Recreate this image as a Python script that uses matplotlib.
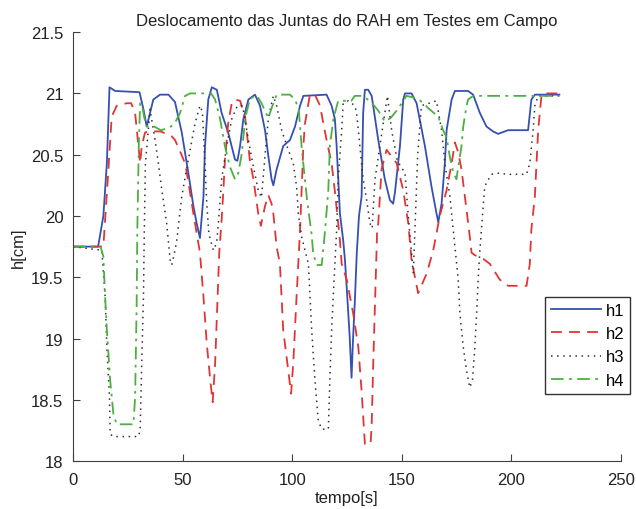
import matplotlib.pyplot as plt

plt.rcParams['font.family'] = ['Liberation Sans', 'DejaVu Sans']

# h1 (blue, solid)
t1 = [0, 11.4, 13.8, 15.4, 16.6, 19.2, 30.3, 32.1, 33.6, 35.1, 36.6, 39.7, 43.5, 46.5,
      49.6, 52.6, 54.9, 56.4, 57.9, 59.5, 60.2, 61.7, 63.3, 65.6, 67.8, 70.8, 73.9, 75,
      76.2, 77.7, 80, 83, 85.3, 87.6, 89.1, 90.6, 91.4, 92.9, 95.9, 99, 101.3, 103.6,
      105.1, 115.7, 118, 119.5, 120.3, 121.8, 123.3, 124.1, 125.3, 126.3, 127.1, 127.8,
      128.6, 129.5, 130.5, 131.7, 132.4, 133.2, 134.7, 136.3, 139.3, 142.3, 144.6, 146.1,
      146.9, 149.2, 150.7, 151.5, 154.5, 156.8, 160.6, 163.6, 165.9, 166.7, 168.2, 169.7,
      170.5, 172.8, 174.3, 180.3, 182.6, 185.7, 188.7, 191.7, 194, 198.6, 207.7, 209.2,
      210.8, 222]
h1 = [19.75, 19.75, 20.0, 20.43, 21.05, 21.02, 21.01, 20.87, 20.73, 20.84, 20.95, 20.99,
      20.99, 20.93, 20.68, 20.35, 20.08, 19.94, 19.82, 20.16, 20.57, 20.95, 21.05, 21.03,
      20.84, 20.68, 20.46, 20.45, 20.57, 20.79, 20.95, 20.99, 20.9, 20.7, 20.49, 20.3,
      20.25, 20.38, 20.57, 20.62, 20.73, 20.9, 20.98, 20.99, 20.9, 20.79, 20.57, 20.02,
      19.8, 19.64, 19.3, 19.0, 18.68, 19.0, 19.3, 19.7, 20.0, 20.16, 20.84, 21.03, 21.03,
      20.98, 20.62, 20.3, 20.13, 20.1, 20.19, 20.57, 20.95, 21.0, 21.0, 20.92, 20.57,
      20.24, 20.02, 19.95, 20.1, 20.43, 20.7, 20.95, 21.02, 21.02, 20.99, 20.84, 20.73,
      20.69, 20.67, 20.7, 20.7, 20.95, 20.99, 20.99]

# h2 (red, dashed)
t2 = [0, 13.8, 16.1, 17.6, 19.9, 24.5, 26.5, 28.3, 29.8, 30.6, 31.3, 32.8, 34, 40, 45,
      46.5, 49, 51.1, 51.9, 53.4, 54.9, 56.4, 57.9, 59.5, 61, 62.5, 63.7, 64.8, 65.5,
      66.7, 67.8, 68.6, 69.3, 70.8, 72.4, 73.9, 76.2, 78.5, 80.7, 82.3, 84.5, 85.7, 87.6,
      89.1, 90.6, 91.4, 92.9, 94.4, 95.9, 98.2, 99.5, 100.5, 102, 103.6, 105.1, 105.8,
      108.1, 110.4, 112.7, 114.2, 115.7, 118, 119.5, 121, 121.8, 122.6, 124.9, 127.9,
      130.2, 131.7, 133.2, 135.8, 136.3, 137, 137.8, 138.8, 139.3, 140.8, 143.1, 147.7,
      150.7, 153, 154.5, 157.5, 161.4, 164.4, 167.4, 170.5, 172.8, 174.3, 175.8, 177.3,
      179.6, 181.1, 181.9, 183.4, 187.2, 190.2, 194.8, 198.6, 207, 208.5, 209.2, 210.8,
      212.3, 213.8, 214.6, 222]
h2 = [19.75, 19.75, 20.38, 20.81, 20.9, 20.92, 20.92, 20.84, 20.57, 20.43, 20.57, 20.68,
      20.69, 20.69, 20.65, 20.62, 20.52, 20.43, 20.35, 20.19, 20.02, 19.86, 19.7, 19.34,
      18.96, 18.68, 18.48, 18.79, 19.12, 19.7, 19.97, 20.21, 20.46, 20.76, 20.92, 20.95,
      20.94, 20.81, 20.45, 20.3, 20.02, 19.92, 20.08, 20.17, 20.1, 20.02, 19.75, 19.61,
      19.07, 18.74, 18.55, 18.8, 19.34, 19.89, 20.57, 20.75, 20.99, 20.99, 20.9, 20.76,
      20.62, 20.43, 20.2, 19.94, 19.8, 19.61, 19.48, 19.2, 18.93, 18.57, 18.14, 18.14,
      18.3, 18.79, 19.28, 19.89, 19.94, 20.38, 20.54, 20.43, 20.21, 19.94, 19.64, 19.37,
      19.53, 19.72, 20.0, 20.21, 20.43, 20.6, 20.52, 20.38, 20.05, 19.83, 19.7, 19.68,
      19.65, 19.61, 19.48, 19.43, 19.43, 19.61, 19.89, 20.16, 20.7, 20.98, 21.0, 21.0]

# h3 (black, dotted)
t3 = [0, 13.1, 14.6, 15.4, 16.6, 16.9, 18.4, 29.8, 30.6, 31.3, 32.1, 32.5, 33, 35.1,
      37.4, 38.9, 40.5, 42.7, 44.3, 45, 46.5, 47.3, 49.6, 52.6, 55.7, 57.9, 59, 60.2, 61,
      62, 64, 65.5, 66.3, 67.8, 70.1, 72.4, 75, 77, 78, 80, 82.3, 84.5, 86, 87.6, 89.1,
      90.6, 91.4, 92.9, 95.2, 98, 100.5, 102, 102.8, 104.3, 107.4, 108.9, 110.4, 111.9,
      113.5, 116.5, 117.2, 118, 119.5, 120.3, 121, 122.6, 123.3, 125.6, 128.6, 129.4,
      130.9, 132.4, 134, 135.5, 136.5, 137.8, 140, 142.3, 143.5, 145.4, 148, 151.5, 153,
      155.3, 157.3, 159, 165.9, 168.2, 169.7, 172, 173.5, 174.3, 175.8,
      176.6, 178.1, 179.6, 181.1, 182.3, 183.4, 184.2, 184.9, 185.7, 186.4, 187.9, 188.7,
      191, 194.8, 197.9, 207, 208.5, 210, 210.8, 212.3, 222]
h3 = [19.75, 19.72, 19.34, 18.93, 18.52, 18.22, 18.2, 18.2, 18.25, 18.79, 19.34, 19.89,
      20.43, 20.87, 20.62, 20.43, 20.21, 19.94, 19.64, 19.6, 19.72, 19.8, 20.16, 20.46,
      20.76, 20.9, 20.85, 20.43, 20.1, 19.85, 19.72, 19.78, 19.94, 20.3, 20.57, 20.79,
      20.9, 20.9, 20.84, 20.62, 20.4, 20.21, 20.15, 20.49, 20.79, 20.92, 20.98, 20.9,
      20.7, 20.55, 20.43, 20.24, 20.02, 19.83, 19.61, 19.07, 18.66, 18.33, 18.26, 18.26,
      18.66, 19.07, 19.61, 19.89, 20.3, 20.7, 20.92, 20.94, 20.9, 20.84, 20.57, 20.3,
      20.13, 19.94, 19.9, 20.3, 20.57, 20.84, 20.98, 20.7, 20.45, 20.35, 20.0,
      19.53, 20.5, 20.9, 20.94, 20.7, 20.43, 20.16, 19.89, 19.75, 19.48, 19.2,
      18.93, 18.74, 18.6, 18.66, 18.93, 19.2, 19.48, 19.72, 19.89, 20.24, 20.27, 20.34,
      20.35, 20.34, 20.34, 20.43, 20.7, 20.9, 20.98, 20.98]

# h4 (green, dash-dot)
t4 = [0, 12.5, 13.8, 14.6, 15.4, 16.9, 18.4, 19.9, 27.5, 28.3, 29, 29.3, 30, 30.6, 31.5,
      32.5, 33.6, 36, 40, 44, 46.5, 48.8, 51.1, 53.4, 63, 64.8, 67.1, 69.3, 71.6, 73.9,
      75.4, 77, 78.5, 80.7, 84, 86, 89.1, 91, 92.9, 99, 101.3, 103, 104.3, 105.5, 107,
      108.9, 109.6, 111.2, 113.5, 115, 116.5, 117.2, 118.8, 121, 127, 128.6, 131.7, 135.5,
      139.3, 142.3, 145, 147.7, 150, 152.2, 157, 160, 162.1, 166.7, 168.9, 170.5, 172,
      173.5, 175, 175.8, 177.3, 178.1, 179.6, 180.3, 182.6, 222]
h4 = [19.75, 19.75, 19.67, 19.34, 19.07, 18.66, 18.38, 18.3, 18.3, 18.52, 19.28, 19.89,
      20.6, 20.92, 20.9, 20.8, 20.73, 20.74, 20.7, 20.72, 20.76, 20.84, 20.98, 21.0, 21.0,
      20.95, 20.79, 20.57, 20.4, 20.3, 20.35, 20.51, 20.79, 20.96, 20.98, 20.92, 20.8,
      20.9, 20.99, 20.99, 20.95, 20.87, 20.57, 20.35, 20.1, 19.85, 19.69, 19.6, 19.6,
      19.88, 20.21, 20.57, 20.79, 20.94, 20.94, 20.98, 20.98, 20.94, 20.86, 20.77, 20.8,
      20.86, 20.92, 20.98, 20.96, 20.92, 20.88, 20.81, 20.7, 20.64, 20.48, 20.36, 20.3,
      20.4, 20.57, 20.73, 20.9, 20.95, 20.98, 20.98]

fig = plt.figure(figsize=(6.36, 5.1), dpi=100)
ax = fig.add_axes([0.115, 0.094, 0.861, 0.841])

ax.plot(t1, h1, color='#3550b0', lw=1.3, label='h1')
ax.plot(t2, h2, color='#e03535', lw=1.3, ls=(0, (6, 4)), label='h2')
ax.plot(t3, h3, color='#303030', lw=1.1, ls=(0, (1, 3)), label='h3')
ax.plot(t4, h4, color='#4cb040', lw=1.3, ls=(0, (7, 3, 1.5, 3)), label='h4')

ax.set_xlim(0, 250)
ax.set_ylim(18, 21.5)
ax.set_xticks([0, 50, 100, 150, 200, 250])
ax.set_yticks([18, 18.5, 19, 19.5, 20, 20.5, 21, 21.5])
ax.set_yticklabels(['18', '18.5', '19', '19.5', '20', '20.5', '21', '21.5'])

for s in ['top', 'right']:
    ax.spines[s].set_visible(False)
for s in ['left', 'bottom']:
    ax.spines[s].set_color('#404040')
ax.tick_params(direction='in', length=5, colors='#404040', labelcolor='#222222',
               labelsize=12)
ax.tick_params(axis='x', pad=8)
ax.tick_params(axis='y', pad=7)

ax.set_title('Deslocamento das Juntas do RAH em Testes em Campo', fontsize=12,
             color='#222222', pad=5)
ax.set_xlabel('tempo[s]', fontsize=12, color='#222222', labelpad=2)
ax.set_ylabel('h[cm]', fontsize=12, color='#222222', labelpad=4)

leg = ax.legend(loc='upper left', bbox_to_anchor=(545 / 636, 1 - 298 / 510),
                bbox_transform=fig.transFigure, fontsize=12, fancybox=False,
                framealpha=1, edgecolor='#333333', handlelength=3.0,
                labelspacing=0.5, borderpad=0.35, handletextpad=0.3, borderaxespad=0)
leg.get_frame().set_linewidth(1.0)

fig.savefig('out.png', dpi=100)
